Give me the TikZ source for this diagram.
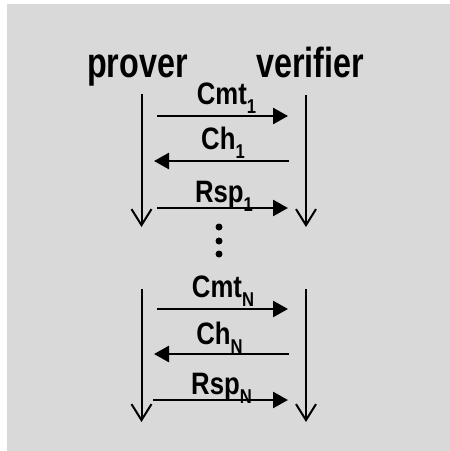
\documentclass[tikz,border=0pt]{standalone}
\usepackage{fontspec}
\newfontfamily\dfont[FakeStretch=0.83]{Liberation Sans}
\newfontfamily\hfont[FakeStretch=0.77]{Liberation Sans}
\usetikzlibrary{arrows.meta}
\definecolor{bggray}{HTML}{D9D9D9}
\newcommand{\dsub}[1]{\raisebox{-9pt}{\fontsize{20pt}{20pt}\selectfont #1}}
\begin{document}
\begin{tikzpicture}[x=1pt,y=-1pt,
  head/.style={font=\hfont\bfseries\fontsize{42pt}{42pt}\selectfont, inner sep=0pt, anchor=base},
  lbl/.style={font=\dfont\bfseries\fontsize{31pt}{31pt}\selectfont, inner sep=0pt, anchor=base},
  life/.style={line width=2pt, -{Straight Barb[length=16pt,width=20pt,line width=2pt]}},
  msg/.style={line width=2.5pt, -{Triangle[length=15pt,width=16pt]}},
  dotc/.style={circle, fill=black, inner sep=0pt, minimum size=7pt}]
\useasboundingbox (0,0) rectangle (450,451);
\fill[bggray] (7,4) rectangle (450,451);
% headings
\node[head] (prover) at (137.5,77) {prover};
\node[head] (verifier) at (310,77) {verifier};
% lifeline coordinates
\coordinate (L1t) at (141.5,94);  \coordinate (L1b) at (141.5,227);
\coordinate (R1t) at (306,95);    \coordinate (R1b) at (306,227);
\coordinate (L2t) at (141.5,289); \coordinate (L2b) at (141.5,422);
\coordinate (R2t) at (306,289);   \coordinate (R2b) at (306,422);
\draw[life] (L1t) -- (L1b);
\draw[life] (R1t) -- (R1b);
\draw[life] (L2t) -- (L2b);
\draw[life] (R2t) -- (R2b);
% message endpoints
\coordinate (c1a) at (157,116); \coordinate (c1b) at (288,116);
\coordinate (h1a) at (289,161); \coordinate (h1b) at (154,161);
\coordinate (r1a) at (157,208); \coordinate (r1b) at (288,208);
\coordinate (cNa) at (157,309); \coordinate (cNb) at (288,309);
\coordinate (hNa) at (289,354); \coordinate (hNb) at (154,354);
\coordinate (rNa) at (153,400); \coordinate (rNb) at (288,400);
\draw[msg] (c1a) -- (c1b);
\draw[msg] (h1a) -- (h1b);
\draw[msg] (r1a) -- (r1b);
\draw[msg] (cNa) -- (cNb);
\draw[msg] (hNa) -- (hNb);
\draw[msg] (rNa) -- (rNb);
% labels
\node[lbl] (cmt1) at (226.5,104) {Cmt\dsub{1}};
\node[lbl] (ch1)  at (223,149)   {Ch\dsub{1}};
\node[lbl] (rsp1) at (224,202)   {Rsp\dsub{1}};
\node[lbl] (cmtN) at (223,297)   {Cmt\dsub{N}};
\node[lbl] (chN)  at (219.5,344) {Ch\dsub{N}};
\node[lbl] (rspN) at (221.5,394) {Rsp\dsub{N}};
% dots
\node[dotc] (d1) at (219,227) {};
\node[dotc] (d2) at (219,241) {};
\node[dotc] (d3) at (219,254) {};
\end{tikzpicture}
\end{document}
